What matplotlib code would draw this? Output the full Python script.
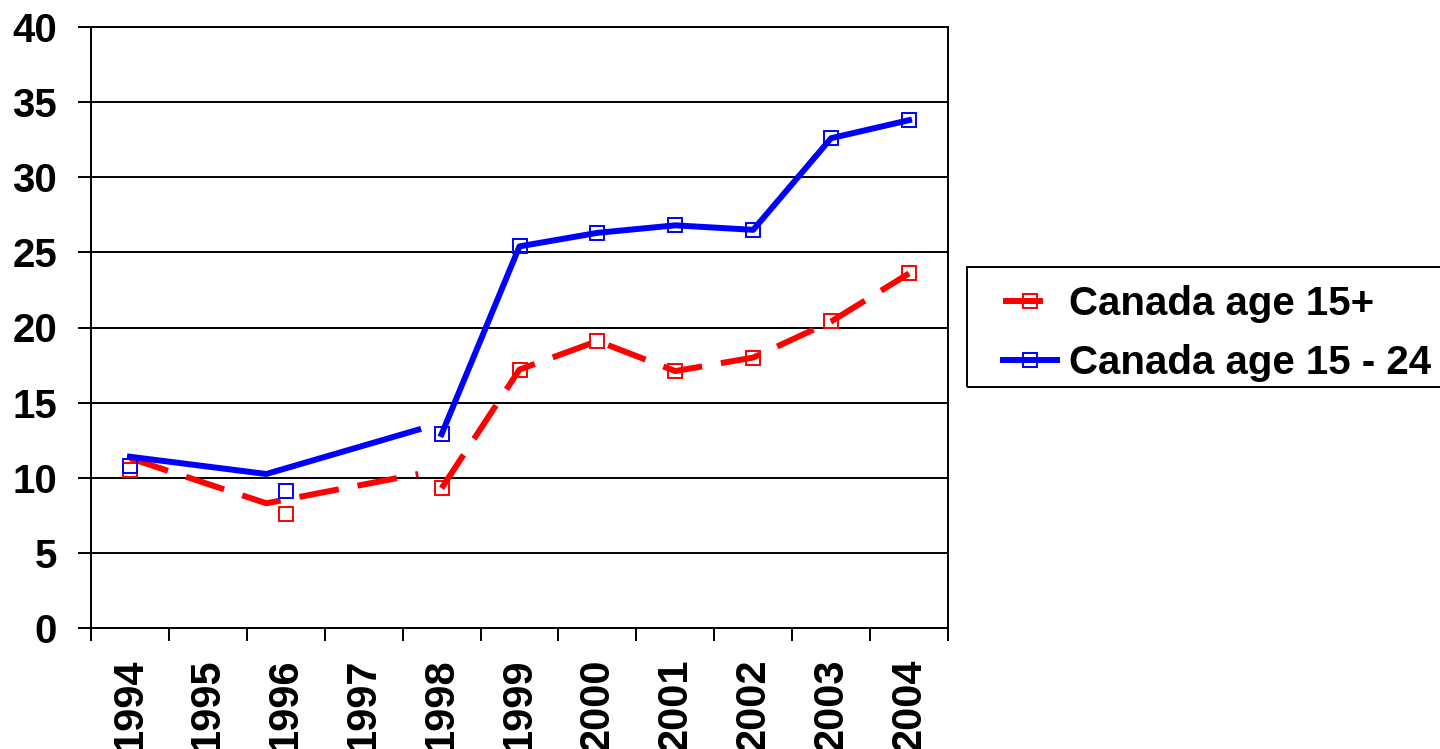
import numpy as np
from matplotlib import pyplot as plt
from matplotlib.lines import Line2D
from matplotlib.patches import Rectangle
from matplotlib.legend_handler import HandlerLine2D

plt.rcParams['font.family'] = ['Liberation Sans', 'DejaVu Sans']
plt.rcParams['font.weight'] = 'bold'

years = ['1994', '1995', '1996', '1997', '1998', '1999',
         '2000', '2001', '2002', '2003', '2004']

# values at the markers (no survey in 1995 and 1997)
age15plus = [10.5, np.nan, 7.6, np.nan, 9.3, 17.2, 19.1, 17.1, 18.0, 20.4, 23.6]
age15to24 = [10.8, np.nan, 9.1, np.nan, 12.9, 25.4, 26.3, 26.8, 26.5, 32.6, 33.8]

# the joined-up early part of each line, drawn separately
early_pos = [0.0, 1.75, 3.7]
early_15plus = [11.3, 8.3, 10.25]
early_15to24 = [11.4, 10.25, 13.2]

red = '#ff0000'
blue = '#0000ff'
lw = 4.3
dash = (6.7, 3.2)
mk = dict(marker='s', ms=10.5, mfc='none', mew=1.4)


class MarkerLeft(HandlerLine2D):
    # legend marker sits toward the left end of the sample line
    def get_xdata(self, legend, xdescent, ydescent, width, height, fontsize):
        return [-xdescent, -xdescent + width], [-xdescent + 0.28 * width]


fig = plt.figure(figsize=(14.4, 7.49), dpi=100)
ax = fig.add_axes([91 / 1440, 1 - 628 / 749, 857 / 1440, 601 / 749])

x = np.arange(len(years))
late = slice(4, None)

ax.plot(early_pos, early_15plus, color=red, lw=lw, dashes=dash)
ax.plot(x[late], age15plus[late], color=red, lw=lw, dashes=dash)
ax.plot(early_pos, early_15to24, color=blue, lw=lw)
ax.plot(x[late], age15to24[late], color=blue, lw=lw)

ax.plot(x, age15plus, ls='none', mec=red, **mk)
ax.plot(x, age15to24, ls='none', mec=blue, **mk)

ax.set_xlim(-0.5, len(years) - 0.5)
ax.set_ylim(0, 40)
ax.set_yticks(range(0, 41, 5))
ax.yaxis.grid(True, color='black', lw=1.4)
ax.set_axisbelow(True)

ax.set_xticks(np.arange(len(years) + 1) - 0.5)
ax.set_xticklabels([])
ax.set_xticks(x, minor=True)
ax.set_xticklabels(years, minor=True, rotation=90, fontsize=30, fontweight='bold')
ax.tick_params(axis='x', which='major', direction='out', length=9.4, width=1.4)
ax.tick_params(axis='x', which='minor', length=0, pad=22)
ax.tick_params(axis='y', direction='out', length=9.4, width=1.4, labelsize=29, pad=15)
for lab in ax.get_yticklabels():
    lab.set_fontweight('bold')

for s in ax.spines.values():
    s.set_color('black')
    s.set_linewidth(1.4)

# legend box drawn by hand, legend itself without frame
fig.patches.append(Rectangle((967 / 1440, 1 - 387 / 749), 520 / 1440, 120 / 749,
                             transform=fig.transFigure, fill=False,
                             ec='black', lw=1.4))
handles = [
    Line2D([], [], color=red, lw=lw, dashes=dash, mec=red, **mk),
    Line2D([], [], color=blue, lw=lw, mec=blue, **mk),
]
leg = fig.legend(handles, ['Canada age 15+', 'Canada age 15 - 24'],
                 loc='upper left', bbox_to_anchor=(1003 / 1440, 1 - 285 / 749),
                 borderaxespad=0, borderpad=0, prop={'size': 29, 'weight': 'bold'},
                 handlelength=1.35, handletextpad=0.28, labelspacing=0.52,
                 frameon=False, handler_map={Line2D: MarkerLeft()})

plt.savefig('out.png', dpi=100)
